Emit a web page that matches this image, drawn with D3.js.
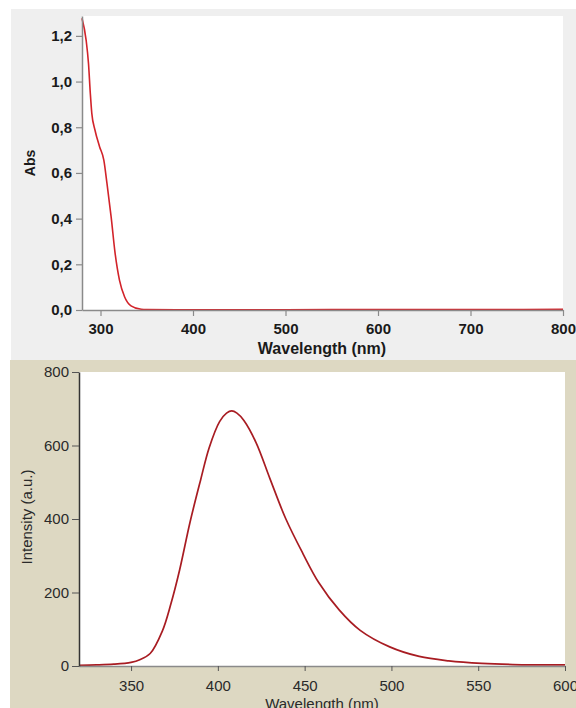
<!DOCTYPE html>
<html>
<head>
<meta charset="utf-8">
<script src="https://cdn.jsdelivr.net/npm/d3@7"></script>
<style>
  body { margin: 0; background: #fff; }
  svg { display: block; }
  .top text { font-family: "Liberation Sans", Arial, sans-serif; font-weight: bold; fill: #1a1a1a; }
  .bot text { font-family: "Liberation Sans", Arial, sans-serif; fill: #2a2a2a; }
</style>
</head>
<body>
<svg id="chart" width="576" height="708"></svg>
<script>
// absorption spectrum (top)
const absWl  = [280, 284.5, 287, 289, 290.6, 294, 299, 303.6, 307, 311.5, 315.8, 320.5, 326, 333, 344, 350, 400, 500, 600, 700, 800]
const absVal = [1.277, 1.18, 1.08, 0.948, 0.861, 0.788, 0.715, 0.656, 0.554, 0.408, 0.248, 0.131, 0.058, 0.018, 0.003, 0.002, 0.001, 0.001, 0.002, 0.002, 0.003]
const absXTicks = [300, 400, 500, 600, 700, 800]
const absYTicks = [0, 0.2, 0.4, 0.6, 0.8, 1.0, 1.2]

// emission spectrum (bottom)
const emWl  = [320, 330, 340, 350, 355, 361, 368, 373, 378, 384, 390, 395, 401, 405, 408, 411, 415, 422, 430, 439, 449, 458, 470, 482, 499, 516, 533, 552, 570, 600]
const emVal = [2, 3, 5, 10, 17, 34, 95, 170, 262, 392, 505, 594, 665, 688, 694, 688, 668, 608, 510, 402, 306, 228, 152, 97, 52, 26, 14, 7, 4, 3]
const emXTicks = [350, 400, 450, 500, 550, 600]
const emYTicks = [0, 200, 400, 600, 800]

const svg = d3.select('#chart')
const comma = v => d3.format('.1f')(v).replace('.', ',')

// ---------- top panel ----------
svg.append('rect').attr('x', 11).attr('y', 9).attr('width', 565).attr('height', 351).attr('fill', '#efefef')

const x1 = d3.scaleLinear().domain([280, 800]).range([82, 563])
const y1 = d3.scaleLinear().domain([0, 1.287]).range([310, 16])
const g1 = svg.append('g').attr('class', 'top')

g1.append('rect').attr('x', 82).attr('y', 16).attr('width', 563 - 82).attr('height', 310 - 16).attr('fill', '#fff')

g1.append('path')
  .datum(absWl.map((w, i) => [w, absVal[i]]))
  .attr('fill', 'none').attr('stroke', '#d2232a').attr('stroke-width', 1.6)
  .attr('d', d3.line().x(d => x1(d[0])).y(d => y1(d[1])).curve(d3.curveMonotoneX))

const ax1 = g1.append('g').attr('transform', 'translate(0,310)')
  .call(d3.axisBottom(x1).tickValues(absXTicks).tickSize(6).tickSizeOuter(0).tickPadding(7))
const ay1 = g1.append('g').attr('transform', 'translate(82,0)')
  .call(d3.axisLeft(y1).tickValues(absYTicks).tickFormat(comma).tickSize(6).tickSizeOuter(0).tickPadding(4))
;[ax1, ay1].forEach(a => {
  a.select('.domain').attr('stroke', '#8a8a8a').attr('stroke-width', 1.5)
  a.selectAll('.tick line').attr('stroke', '#8a8a8a').attr('stroke-width', 1.2)
  a.selectAll('text').attr('font-size', 15).attr('fill', '#1a1a1a')
})

g1.append('text').attr('x', 322).attr('y', 354).attr('text-anchor', 'middle')
  .attr('font-size', 16).text('Wavelength (nm)')
g1.append('text').attr('transform', 'translate(35,163) rotate(-90)').attr('text-anchor', 'middle')
  .attr('font-size', 14).text('Abs')

// ---------- bottom panel ----------
svg.append('rect').attr('x', 10).attr('y', 360).attr('width', 566).attr('height', 348).attr('fill', '#ddd8c2')

const x2 = d3.scaleLinear().domain([320, 600]).range([79, 565])
const y2 = d3.scaleLinear().domain([0, 800]).range([666, 372])
const g2 = svg.append('g').attr('class', 'bot')

g2.append('rect').attr('x', 79).attr('y', 372).attr('width', 565 - 79).attr('height', 666 - 372).attr('fill', '#fff')

g2.append('path')
  .datum(emWl.map((w, i) => [w, emVal[i]]))
  .attr('fill', 'none').attr('stroke', '#a81c22').attr('stroke-width', 1.7)
  .attr('d', d3.line().x(d => x2(d[0])).y(d => y2(d[1])).curve(d3.curveCatmullRom.alpha(0.5)))

const ax2 = g2.append('g').attr('transform', 'translate(0,666)')
  .call(d3.axisBottom(x2).tickValues(emXTicks).tickSize(5).tickSizeOuter(0).tickPadding(9))
const ay2 = g2.append('g').attr('transform', 'translate(79,0)')
  .call(d3.axisLeft(y2).tickValues(emYTicks).tickSize(7).tickSizeOuter(0).tickPadding(3))
ax2.select('.domain').attr('stroke', '#8a8a8a').attr('stroke-width', 1.5)
ay2.select('.domain').attr('stroke', '#333').attr('stroke-width', 1.5)
;[ax2, ay2].forEach(a => {
  a.selectAll('.tick line').attr('stroke', '#555').attr('stroke-width', 1)
  a.selectAll('text').attr('font-size', 15).attr('fill', '#2a2a2a')
})

g2.append('text').attr('x', 322).attr('y', 709).attr('text-anchor', 'middle')
  .attr('font-size', 15).text('Wavelength (nm)')
g2.append('text').attr('transform', 'translate(32,517) rotate(-90)').attr('text-anchor', 'middle')
  .attr('font-size', 15).text('Intensity (a.u.)')
</script>
</body>
</html>
